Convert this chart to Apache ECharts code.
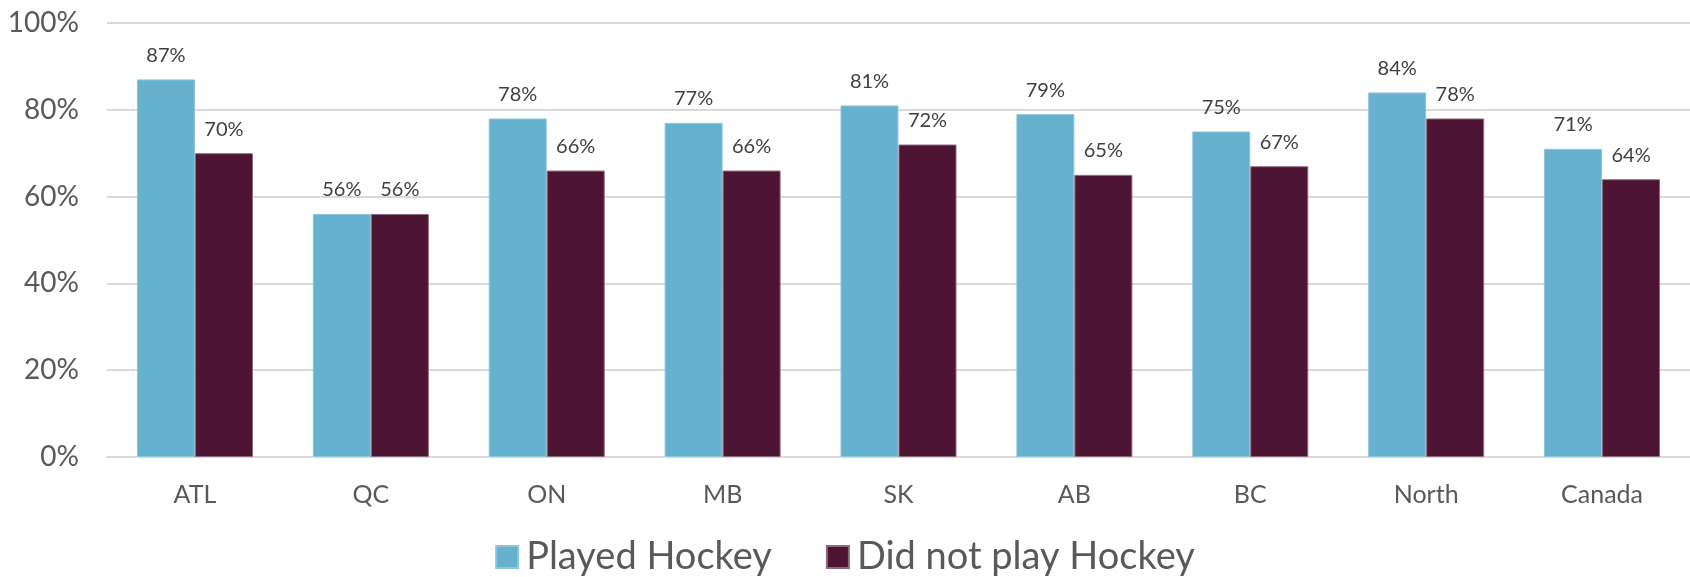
<!DOCTYPE html>
<html>
<head>
<meta charset="utf-8">
<script src="https://cdn.jsdelivr.net/npm/echarts@6/dist/echarts.min.js"></script>
<style>
  html, body { margin: 0; padding: 0; background: #fff; }
  #chart { width: 1690px; height: 577px; }
</style>
</head>
<body>
<div id="chart"></div>
<script>
// Regions and share of respondents (%) for each group
const regions = ['ATL', 'QC', 'ON', 'MB', 'SK', 'AB', 'BC', 'North', 'Canada'];
const playedHockey = [87, 56, 78, 77, 81, 79, 75, 84, 71];
const didNotPlayHockey = [70, 56, 66, 66, 72, 65, 67, 78, 64];
const seriesNames = ['Played Hockey', 'Did not play Hockey'];
const yTicks = [0, 20, 40, 60, 80, 100];

const FONT = 'Lato, "Open Sans", sans-serif';
const TEXT = '#595959';

const chart = echarts.init(document.getElementById('chart'));

const labelStyle = {
  show: true,
  position: 'top',
  distance: 14,
  formatter: p => p.value + '%',
  fontFamily: FONT,
  fontSize: 20,
  color: '#404040'
};

chart.setOption({
  animation: false,
  color: ['#66B1CE', '#4D1433'],
  grid: { left: 107, right: 0, top: 23, bottom: 120 },
  legend: {
    data: seriesNames,
    bottom: -4,
    left: 'center',
    itemWidth: 22,
    itemHeight: 22,
    itemGap: 54,
    icon: 'rect',
    textStyle: { fontFamily: FONT, fontSize: 38, color: TEXT, padding: [0, 0, 0, 3] }
  },
  xAxis: {
    type: 'category',
    data: regions,
    axisTick: { show: false },
    axisLine: { lineStyle: { color: '#d9d9d9', width: 2 } },
    axisLabel: { fontFamily: FONT, fontSize: 25, color: TEXT, margin: 25 }
  },
  yAxis: {
    type: 'value',
    min: yTicks[0],
    max: yTicks[yTicks.length - 1],
    interval: yTicks[1] - yTicks[0],
    axisLine: { show: false },
    axisTick: { show: false },
    splitLine: { lineStyle: { color: '#d9d9d9', width: 2 } },
    axisLabel: { fontFamily: FONT, fontSize: 28, color: TEXT, margin: 28, formatter: '{value}%' }
  },
  series: [
    {
      name: seriesNames[0],
      type: 'bar',
      data: playedHockey,
      barWidth: 58,
      barGap: '0%',
      itemStyle: { borderColor: '#8cc6dc', borderWidth: 1 },
      label: labelStyle
    },
    {
      name: seriesNames[1],
      type: 'bar',
      data: didNotPlayHockey,
      barWidth: 58,
      itemStyle: { borderColor: '#8a6a7c', borderWidth: 1 },
      label: labelStyle
    }
  ]
});
</script>
</body>
</html>
